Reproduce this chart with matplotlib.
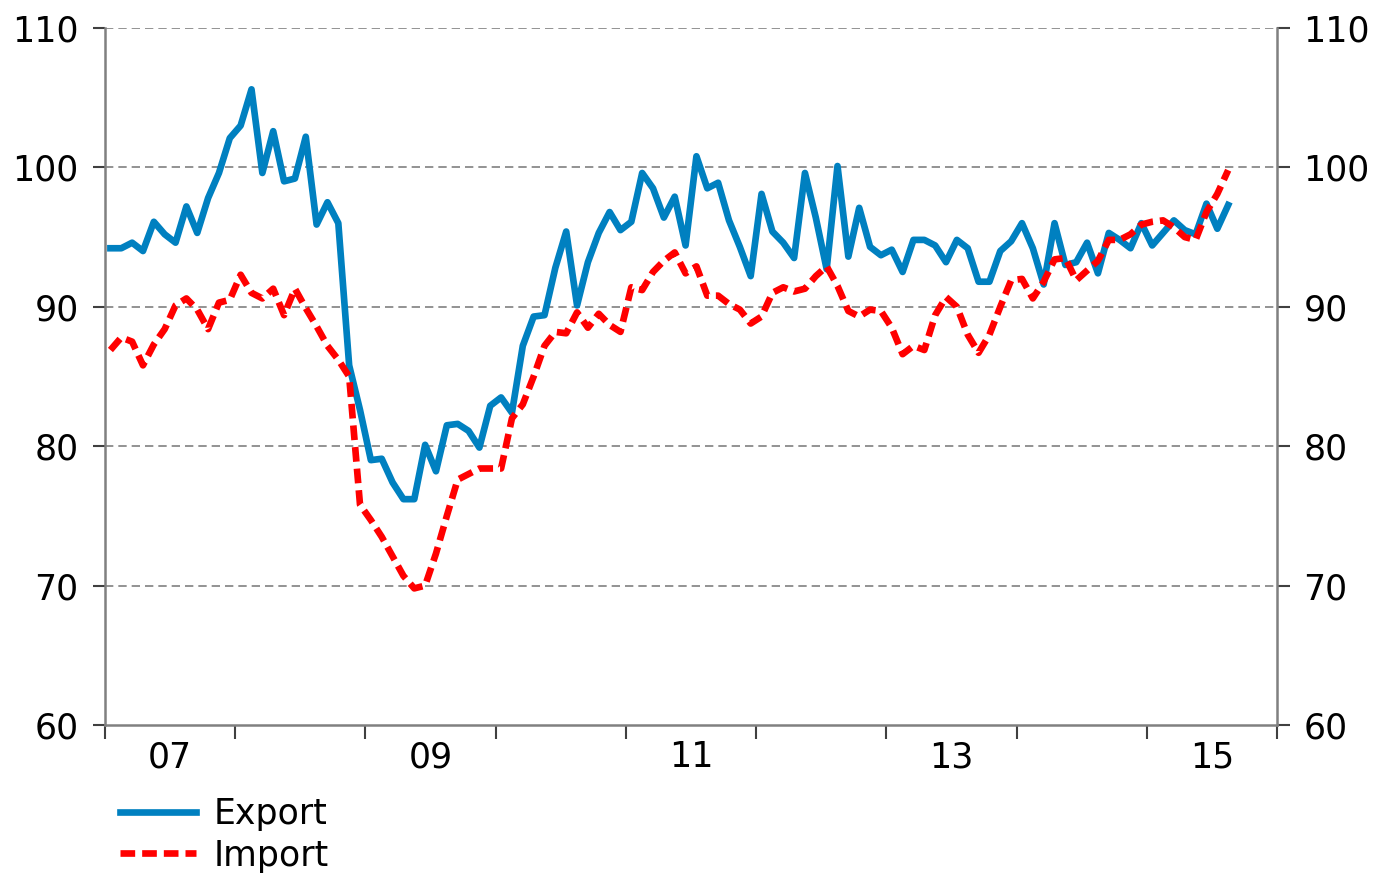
import numpy as np
import matplotlib
matplotlib.use('Agg')
import matplotlib.pyplot as plt

# monthly index, Jan 2007 .. Aug 2015
export = [94.2, 94.2, 94.6, 94.0, 96.1, 95.2, 94.6, 97.2, 95.3, 97.8, 99.6, 102.1,
          103.0, 105.6, 99.6, 102.6, 99.0, 99.2, 102.2, 95.9, 97.5, 96.0, 85.8, 82.6,
          79.0, 79.1, 77.4, 76.2, 76.2, 80.1, 78.2, 81.5, 81.6, 81.1, 79.9, 82.9,
          83.5, 82.4, 87.2, 89.3, 89.4, 92.8, 95.4, 90.1, 93.2, 95.3, 96.8, 95.5,
          96.1, 99.6, 98.5, 96.4, 97.9, 94.4, 100.8, 98.5, 98.9, 96.2, 94.3, 92.2,
          98.1, 95.4, 94.6, 93.5, 99.6, 96.4, 92.7, 100.1, 93.6, 97.1, 94.3, 93.7,
          94.1, 92.5, 94.8, 94.8, 94.4, 93.2, 94.8, 94.2, 91.8, 91.8, 94.0, 94.7,
          96.0, 94.2, 91.6, 96.0, 93.0, 93.2, 94.6, 92.4, 95.3, 94.8, 94.2, 96.0,
          94.4, 95.3, 96.2, 95.5, 95.2, 97.4, 95.6, 97.3]
imports = [86.9, 87.8, 87.5, 85.8, 87.3, 88.4, 90.1, 90.6, 89.8, 88.4, 90.3, 90.5,
           92.3, 91.0, 90.6, 91.3, 89.4, 91.3, 89.9, 88.6, 87.2, 86.2, 85.0, 75.8,
           74.7, 73.5, 72.1, 70.7, 69.8, 70.0, 72.3, 75.0, 77.6, 78.0, 78.4, 78.4,
           78.4, 82.0, 83.0, 85.0, 87.2, 88.2, 88.1, 89.6, 88.5, 89.5, 88.7, 88.2,
           91.4, 91.2, 92.5, 93.3, 93.9, 92.4, 92.9, 90.8, 90.8, 90.2, 89.8, 88.8,
           89.3, 91.0, 91.4, 91.1, 91.3, 92.2, 92.9, 91.5, 89.7, 89.3, 89.8, 89.7,
           88.5, 86.6, 87.2, 86.9, 89.4, 90.7, 90.0, 88.0, 86.7, 88.0, 90.0, 91.9,
           92.0, 90.6, 91.8, 93.4, 93.5, 91.9, 92.6, 93.3, 94.8, 94.8, 95.2, 95.9,
           96.1, 96.2, 95.7, 95.0, 94.8, 96.8, 98.1, 99.8]
year_labels = ['07', '09', '11', '13', '15']
first_year = 2007
n_years = 9

fs = 25
grey = '#808080'

fig = plt.figure(figsize=(13.76, 8.74), dpi=100)
ax = fig.add_axes([105/1376, 1 - 725/874, (1277 - 105)/1376, (725 - 28)/874])

t = np.arange(len(export))
ax.plot(t, export, color='#0080c0', lw=4.8, label='Export', zorder=3)
ax.plot(t, imports, color='#ff0000', lw=4.8, dashes=(2.2, 1.05), label='Import', zorder=4)

ax.set_xlim(-0.5, 12*n_years - 0.5)
ax.set_ylim(60, 110)
for v in [70, 80, 90, 100, 110]:
    ax.axhline(v, color=grey, lw=1.2, dashes=(5, 3), zorder=1)

# year boundaries as ticks, labels in the middle of odd years
ax.set_xticks(np.arange(n_years + 1)*12 - 0.5)
ax.set_xticklabels([])
ax.set_xticks([12*(int('20' + s) - first_year) + 5.5 for s in year_labels], minor=True)
ax.set_xticklabels(year_labels, minor=True, fontsize=fs)
ax.tick_params(axis='x', which='major', length=10, width=1.5, color='#404040', direction='out')
ax.tick_params(axis='x', which='minor', length=0, pad=11)

ax.set_yticks(np.arange(60, 111, 10))
ax.tick_params(axis='y', which='major', labelsize=fs, length=9, width=1.5, color='#404040',
               direction='out', pad=10, right=True, labelright=True)

for s in ['left', 'right', 'bottom']:
    ax.spines[s].set_color(grey)
    ax.spines[s].set_linewidth(1.8)
ax.spines['top'].set_visible(False)

leg = fig.legend(loc='upper left', bbox_to_anchor=(120/1376, 1 - 797/874), frameon=False,
                 fontsize=fs, handlelength=2.2, handletextpad=0.5, labelspacing=0.22,
                 borderaxespad=0, borderpad=0)

fig.savefig('out.png', dpi=100)
